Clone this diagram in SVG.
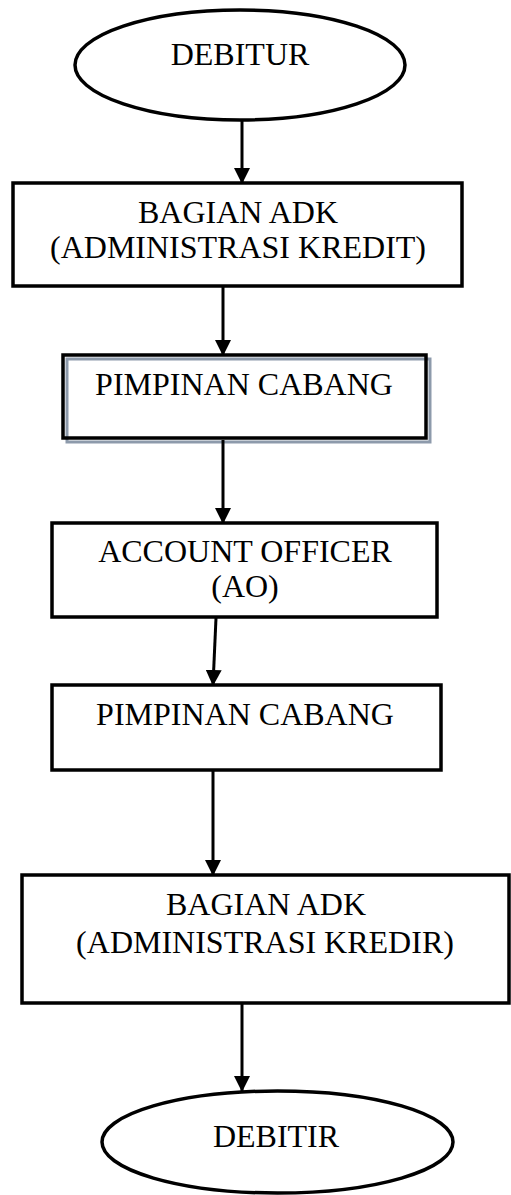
<svg xmlns="http://www.w3.org/2000/svg" width="511" height="1195" viewBox="0 0 511 1195">
<style>
.box{fill:#fff;stroke:#000;stroke-width:3.5}
.oval{fill:#fff;stroke:#000;stroke-width:3.5}
.lbl{font-family:"Liberation Serif","Times New Roman",serif;font-size:32px;fill:#000;text-anchor:middle}
.conn{stroke:#000;stroke-width:3;fill:none}
</style>
<defs>
<marker id="ah" markerUnits="userSpaceOnUse" markerWidth="16" markerHeight="16" viewBox="0 0 16 16" refX="15" refY="8" orient="auto">
<path d="M0,0 L16,8 L0,16 Z" fill="#000"/>
</marker>
</defs>
<rect width="511" height="1195" fill="#fff"/>
<g id="n1">
<ellipse class="oval" cx="240" cy="65" rx="165" ry="55"/>
<text class="lbl" x="240" y="65">DEBITUR</text>
</g>
<g id="n2">
<rect class="box" x="13" y="183" width="449" height="103"/>
<text class="lbl" x="238" y="223">BAGIAN ADK</text>
<text class="lbl" x="238" y="258">(ADMINISTRASI KREDIT)</text>
</g>
<g id="n3">
<rect x="63" y="355" width="363" height="83" fill="#fff"/>
<rect x="67" y="359" width="363" height="83" fill="none" stroke="#8d9aab" stroke-width="3"/>
<rect x="63" y="355" width="363" height="83" fill="none" stroke="#000" stroke-width="3.5"/>
<text class="lbl" x="244" y="395">PIMPINAN CABANG</text>
</g>
<g id="n4">
<rect class="box" x="52" y="523" width="385" height="94"/>
<text class="lbl" x="245" y="562">ACCOUNT OFFICER</text>
<text class="lbl" x="245" y="597">(AO)</text>
</g>
<g id="n5">
<rect class="box" x="52" y="685" width="389" height="85"/>
<text class="lbl" x="245" y="725">PIMPINAN CABANG</text>
</g>
<g id="n6">
<rect class="box" x="22" y="875" width="487" height="128"/>
<text class="lbl" x="266" y="915">BAGIAN ADK</text>
<text class="lbl" x="265" y="953">(ADMINISTRASI KREDIR)</text>
</g>
<g id="n7">
<ellipse class="oval" cx="277.5" cy="1142" rx="175.5" ry="51"/>
<text class="lbl" x="276" y="1147">DEBITIR</text>
</g>
<g id="connectors">
<line class="conn" x1="242" y1="120" x2="242" y2="183" marker-end="url(#ah)"/>
<line class="conn" x1="223" y1="287" x2="223" y2="355" marker-end="url(#ah)"/>
<line class="conn" x1="223" y1="440" x2="223" y2="523" marker-end="url(#ah)"/>
<line class="conn" x1="216" y1="618" x2="213" y2="685" marker-end="url(#ah)"/>
<line class="conn" x1="213" y1="771" x2="213" y2="875" marker-end="url(#ah)"/>
<line class="conn" x1="242" y1="1004" x2="242" y2="1091" marker-end="url(#ah)"/>
</g>
</svg>
